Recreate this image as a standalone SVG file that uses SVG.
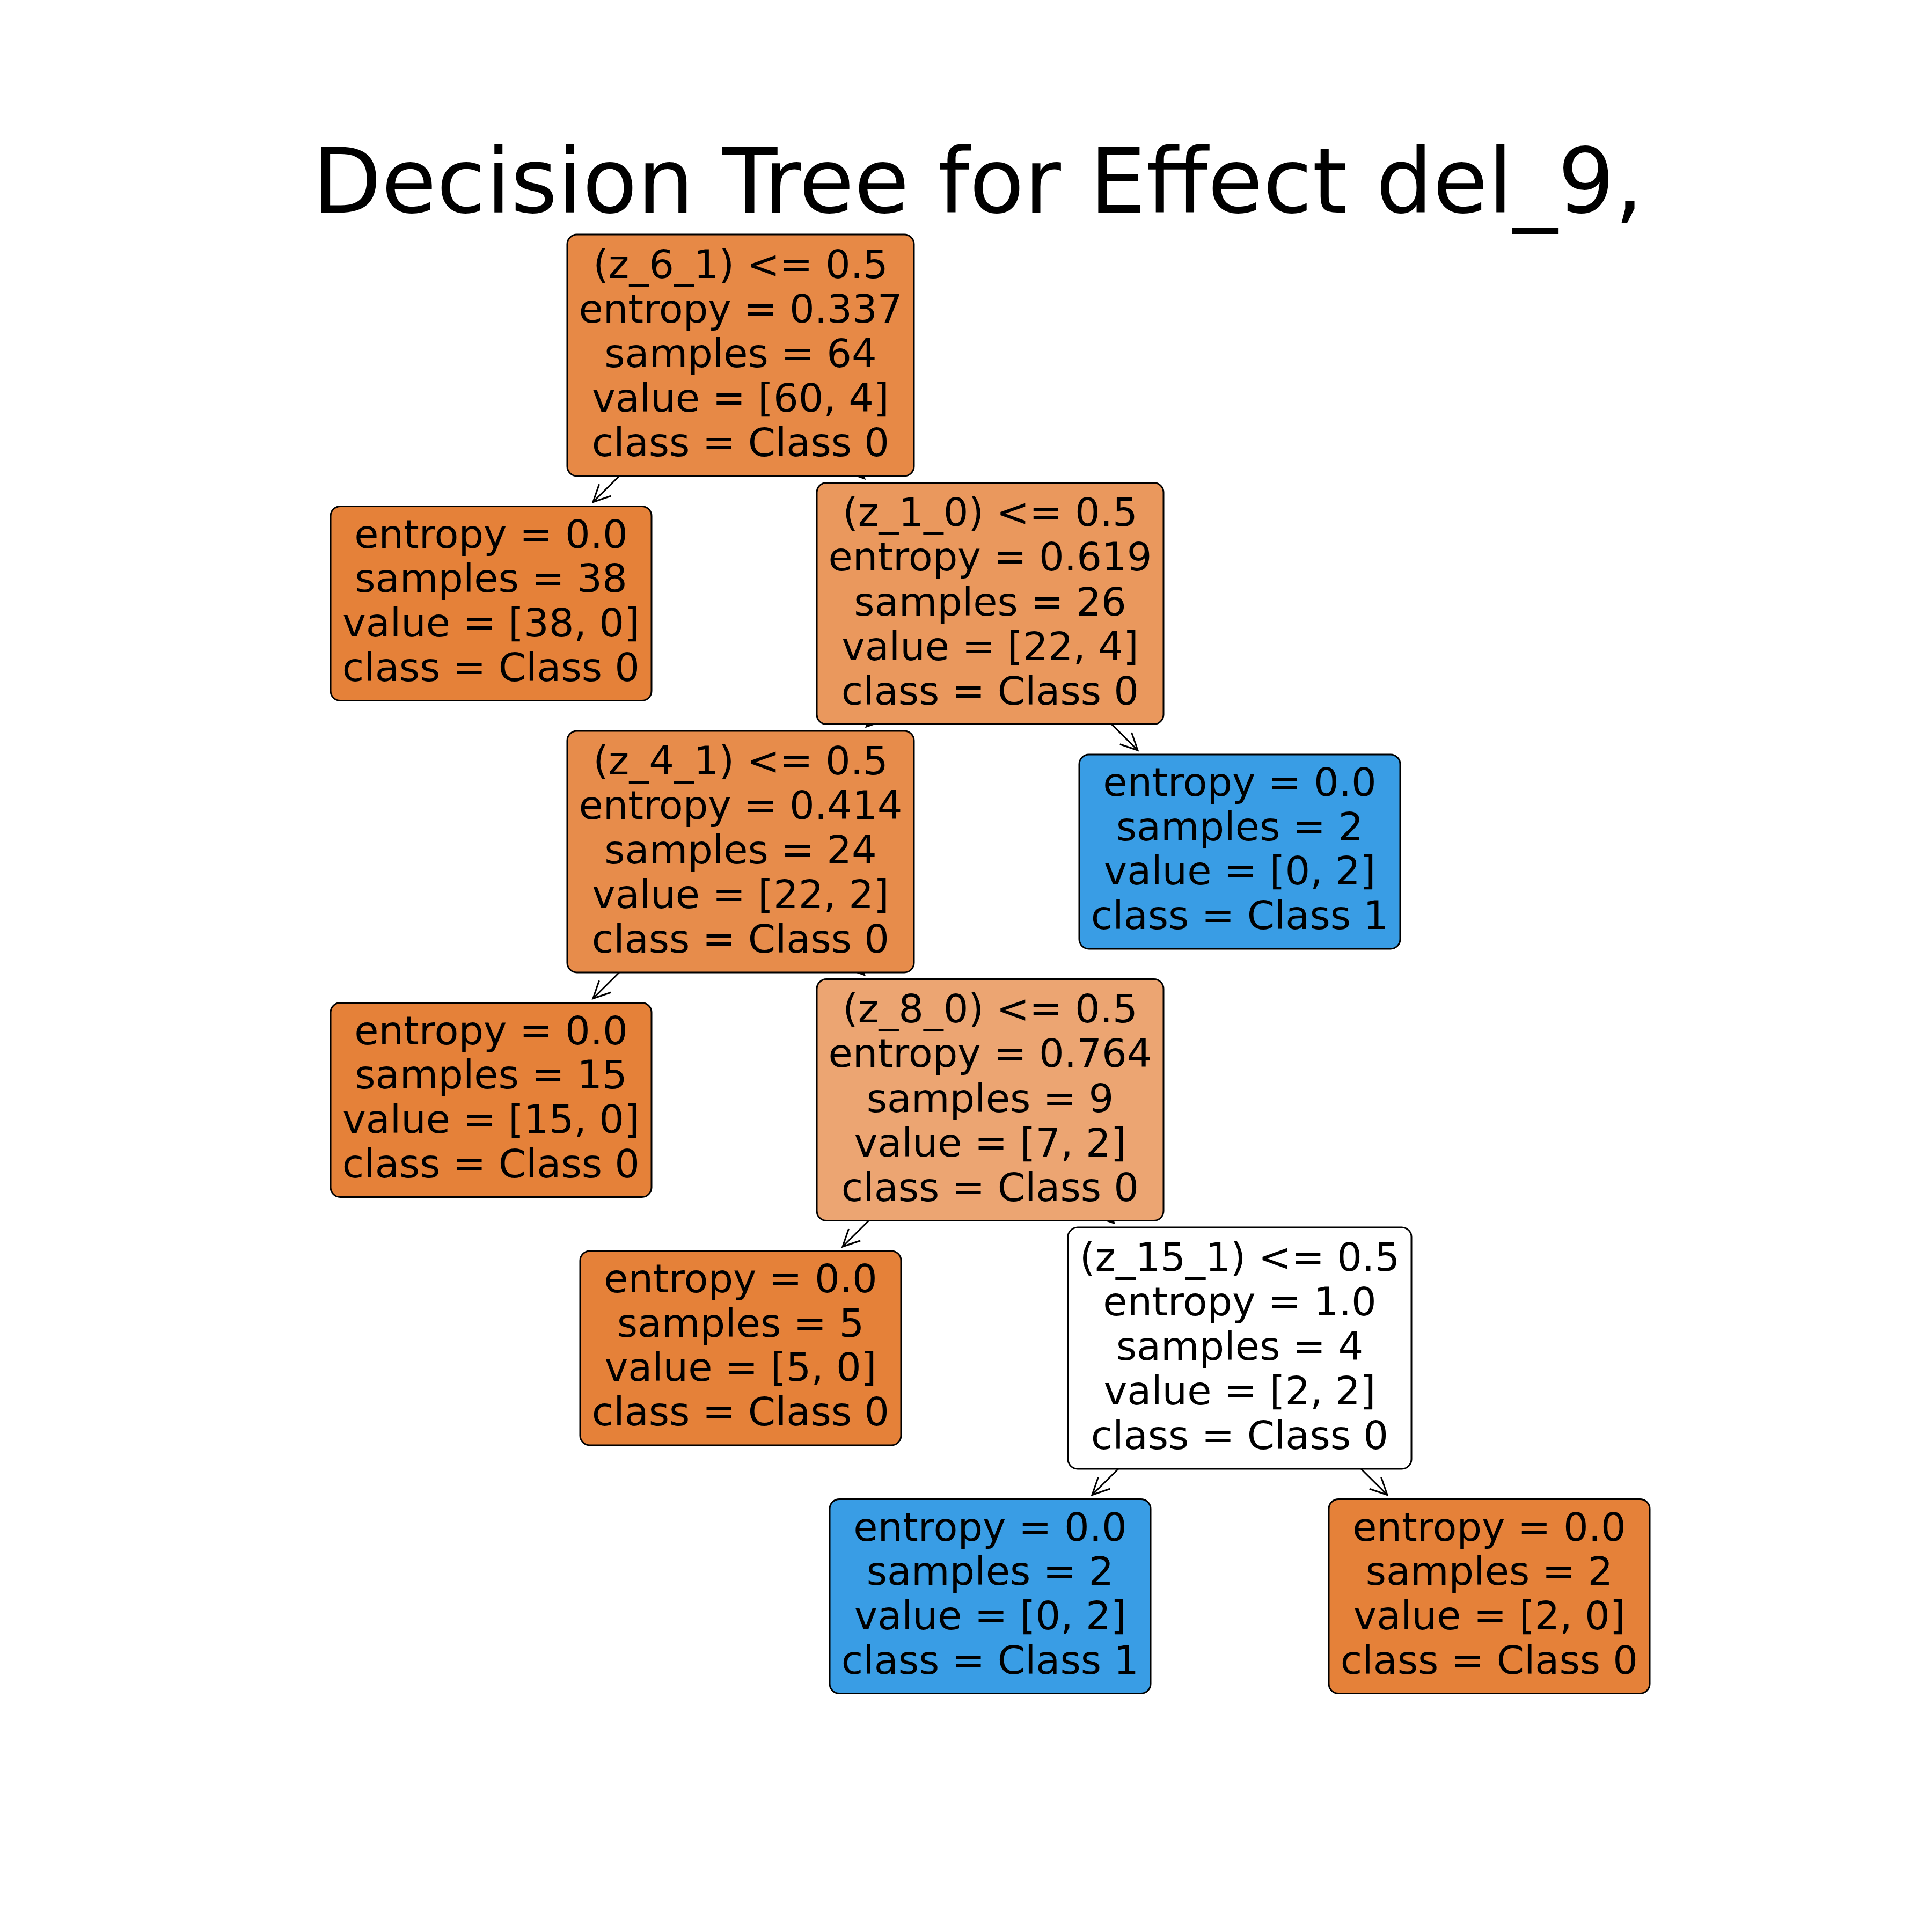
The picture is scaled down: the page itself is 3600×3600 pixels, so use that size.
<svg xmlns="http://www.w3.org/2000/svg" width="3600" height="3600" viewBox="0 0 3600 3600">
<style>
.t{font-family:"DejaVu Sans","Liberation Sans",sans-serif;font-size:73.5px;fill:#000;text-anchor:middle}
.title{font-family:"DejaVu Sans","Liberation Sans",sans-serif;font-size:167px;fill:#000;text-anchor:middle}
.box{stroke:#000;stroke-width:3}
.edge{stroke:#000;stroke-width:3;fill:none;marker-end:url(#arr)}
</style>
<defs>
<marker id="arr" markerUnits="userSpaceOnUse" orient="auto" refX="0" refY="0" markerWidth="80" markerHeight="80" overflow="visible">
<path d="M -31.5 -15.4 L 0 0 L -31.5 15.4" fill="none" stroke="#000" stroke-width="3" stroke-linejoin="miter"/>
</marker>
</defs>
<rect width="3600" height="3600" fill="#fff"/>
<text class="title" x="1822" y="396">Decision Tree for Effect del_9,</text>
<g id="connectors">
<line class="edge" x1="1153.8" y1="887" x2="1105" y2="935.5"/>
<line class="edge" x1="1606.2" y1="887" x2="1610.7" y2="891.5"/>
<line class="edge" x1="1618.8" y1="1349.5" x2="1614.3" y2="1354"/>
<line class="edge" x1="2071.2" y1="1349.5" x2="2120" y2="1398"/>
<line class="edge" x1="1153.8" y1="1812" x2="1105" y2="1860.5"/>
<line class="edge" x1="1606.2" y1="1812" x2="1610.7" y2="1816.5"/>
<line class="edge" x1="1618.8" y1="2274.5" x2="1570" y2="2323"/>
<line class="edge" x1="2071.2" y1="2274.5" x2="2075.7" y2="2279"/>
<line class="edge" x1="2083.8" y1="2737" x2="2035" y2="2785.5"/>
<line class="edge" x1="2536.2" y1="2737" x2="2585" y2="2785.5"/>
</g>
<g id="n0">
<rect class="box" x="1057" y="437" width="646" height="450" rx="18" fill="#e78946"/>
<text class="t" x="1380" y="517.6">(z_6_1) &lt;= 0.5</text>
<text class="t" x="1380" y="600.8">entropy = 0.337</text>
<text class="t" x="1380" y="684">samples = 64</text>
<text class="t" x="1380" y="767.2">value = [60, 4]</text>
<text class="t" x="1380" y="850.4">class = Class 0</text>
</g>
<g id="n1">
<rect class="box" x="616" y="943.5" width="598" height="362" rx="18" fill="#e58139"/>
<text class="t" x="915" y="1020.5">entropy = 0.0</text>
<text class="t" x="915" y="1103.2">samples = 38</text>
<text class="t" x="915" y="1185.9">value = [38, 0]</text>
<text class="t" x="915" y="1268.5">class = Class 0</text>
</g>
<g id="n2">
<rect class="box" x="1522" y="899.5" width="646" height="450" rx="18" fill="#ea985d"/>
<text class="t" x="1845" y="980.1">(z_1_0) &lt;= 0.5</text>
<text class="t" x="1845" y="1063.3">entropy = 0.619</text>
<text class="t" x="1845" y="1146.5">samples = 26</text>
<text class="t" x="1845" y="1229.7">value = [22, 4]</text>
<text class="t" x="1845" y="1312.9">class = Class 0</text>
</g>
<g id="n3">
<rect class="box" x="1057" y="1362" width="646" height="450" rx="18" fill="#e78c4b"/>
<text class="t" x="1380" y="1442.6">(z_4_1) &lt;= 0.5</text>
<text class="t" x="1380" y="1525.8">entropy = 0.414</text>
<text class="t" x="1380" y="1609">samples = 24</text>
<text class="t" x="1380" y="1692.2">value = [22, 2]</text>
<text class="t" x="1380" y="1775.4">class = Class 0</text>
</g>
<g id="n4">
<rect class="box" x="2011" y="1406" width="598" height="362" rx="18" fill="#399de5"/>
<text class="t" x="2310" y="1483">entropy = 0.0</text>
<text class="t" x="2310" y="1565.7">samples = 2</text>
<text class="t" x="2310" y="1648.4">value = [0, 2]</text>
<text class="t" x="2310" y="1731">class = Class 1</text>
</g>
<g id="n5">
<rect class="box" x="616" y="1868.5" width="598" height="362" rx="18" fill="#e58139"/>
<text class="t" x="915" y="1945.5">entropy = 0.0</text>
<text class="t" x="915" y="2028.2">samples = 15</text>
<text class="t" x="915" y="2110.9">value = [15, 0]</text>
<text class="t" x="915" y="2193.5">class = Class 0</text>
</g>
<g id="n6">
<rect class="box" x="1522" y="1824.5" width="646" height="450" rx="18" fill="#eca572"/>
<text class="t" x="1845" y="1905.1">(z_8_0) &lt;= 0.5</text>
<text class="t" x="1845" y="1988.3">entropy = 0.764</text>
<text class="t" x="1845" y="2071.5">samples = 9</text>
<text class="t" x="1845" y="2154.7">value = [7, 2]</text>
<text class="t" x="1845" y="2237.9">class = Class 0</text>
</g>
<g id="n7">
<rect class="box" x="1081" y="2331" width="598" height="362" rx="18" fill="#e58139"/>
<text class="t" x="1380" y="2408">entropy = 0.0</text>
<text class="t" x="1380" y="2490.7">samples = 5</text>
<text class="t" x="1380" y="2573.4">value = [5, 0]</text>
<text class="t" x="1380" y="2656">class = Class 0</text>
</g>
<g id="n8">
<rect class="box" x="1990" y="2287" width="640" height="450" rx="18" fill="#ffffff"/>
<text class="t" x="2310" y="2367.6">(z_15_1) &lt;= 0.5</text>
<text class="t" x="2310" y="2450.8">entropy = 1.0</text>
<text class="t" x="2310" y="2534">samples = 4</text>
<text class="t" x="2310" y="2617.2">value = [2, 2]</text>
<text class="t" x="2310" y="2700.4">class = Class 0</text>
</g>
<g id="n9">
<rect class="box" x="1546" y="2793.5" width="598" height="362" rx="18" fill="#399de5"/>
<text class="t" x="1845" y="2870.5">entropy = 0.0</text>
<text class="t" x="1845" y="2953.2">samples = 2</text>
<text class="t" x="1845" y="3035.9">value = [0, 2]</text>
<text class="t" x="1845" y="3118.5">class = Class 1</text>
</g>
<g id="n10">
<rect class="box" x="2476" y="2793.5" width="598" height="362" rx="18" fill="#e58139"/>
<text class="t" x="2775" y="2870.5">entropy = 0.0</text>
<text class="t" x="2775" y="2953.2">samples = 2</text>
<text class="t" x="2775" y="3035.9">value = [2, 0]</text>
<text class="t" x="2775" y="3118.5">class = Class 0</text>
</g>
</svg>
